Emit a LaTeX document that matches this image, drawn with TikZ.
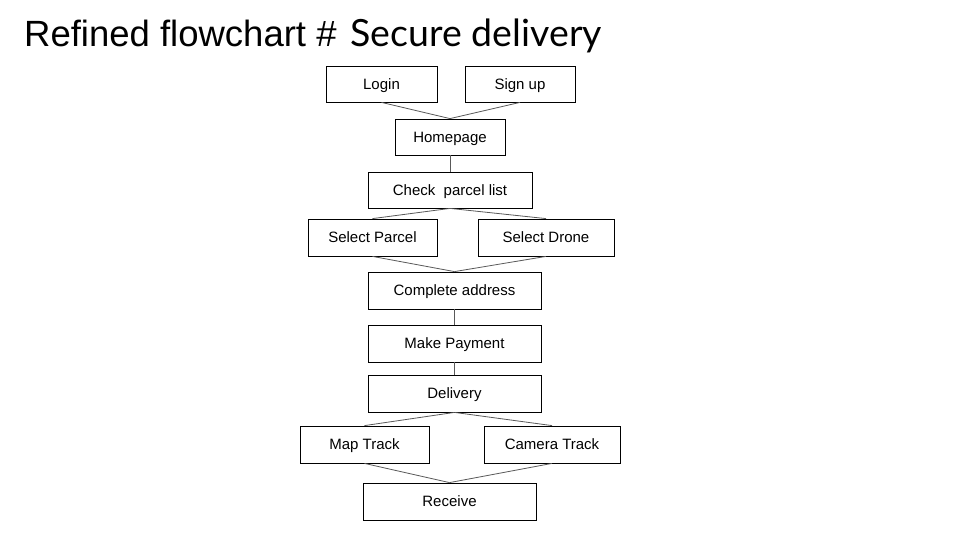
\documentclass[tikz,border=0pt]{standalone}
\usepackage{fontspec}
\setmainfont{Liberation Sans}
\newfontfamily\titletwo{Lato}
\begin{document}
\begin{tikzpicture}[x=1pt,y=-1pt,
  box/.style={draw=black, line width=0.8pt, inner sep=0pt, text height=10.8pt, text depth=0pt, font=\fontsize{15}{18}\selectfont},
  link/.style={draw=black!65, line width=0.8pt}]
\useasboundingbox[fill=white] (0,0) rectangle (960,540);
\node[anchor=base west, inner sep=0pt, font=\fontsize{36.5}{40}\selectfont] (title) at (24,46.5) {Refined flowchart \#\hspace{14pt}{\titletwo\fontsize{37.5}{40}\selectfont Secure delivery}};
\node[box, minimum width=111pt, minimum height=36pt] (login) at (381.5,84) {Login};
\node[box, minimum width=110pt, minimum height=36pt] (signup) at (520,84) {Sign up};
\node[box, minimum width=110pt, minimum height=36pt] (home) at (450,137) {Homepage};
\node[box, minimum width=164pt, minimum height=36pt] (check) at (450,190) {Check\ \ parcel list};
\node[box, minimum width=129pt, minimum height=37pt] (sparcel) at (372.5,237.5) {Select Parcel};
\node[box, minimum width=136pt, minimum height=37pt] (sdrone) at (546,237.5) {Select Drone};
\node[box, minimum width=173pt, minimum height=37pt] (addr) at (454.5,290.5) {Complete address};
\node[box, minimum width=173pt, minimum height=37pt] (pay) at (454.5,343.5) {Make Payment};
\node[box, minimum width=173pt, minimum height=37pt] (deliv) at (454.5,393.5) {Delivery};
\node[box, minimum width=129pt, minimum height=37pt] (map) at (364.5,444.5) {Map Track};
\node[box, minimum width=136pt, minimum height=37pt] (cam) at (552,444.5) {Camera Track};
\node[box, minimum width=173pt, minimum height=37pt] (recv) at (449.5,501.5) {Receive};
\path[link] (login.south) -- (home.north);
\path[link] (signup.south) -- (home.north);
\path[link] (home.south) -- (check.north);
\path[link] (check.south) -- (sparcel.north);
\path[link] (check.south) -- (sdrone.north);
\path[link] (sparcel.south) -- (addr.north);
\path[link] (sdrone.south) -- (addr.north);
\path[link] (addr.south) -- (pay.north);
\path[link] (pay.south) -- (deliv.north);
\path[link] (deliv.south) -- (map.north);
\path[link] (deliv.south) -- (cam.north);
\path[link] (map.south) -- (recv.north);
\path[link] (cam.south) -- (recv.north);
\end{tikzpicture}
\end{document}
